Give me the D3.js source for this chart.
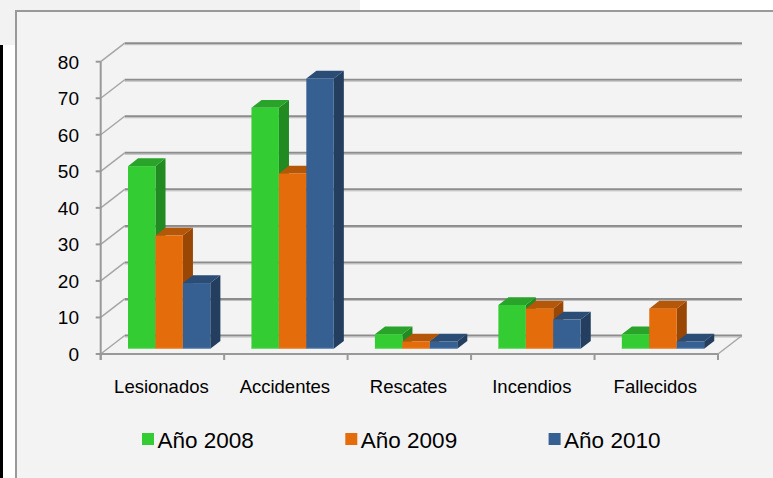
<!DOCTYPE html>
<html>
<head>
<meta charset="utf-8">
<script src="https://cdn.jsdelivr.net/npm/d3@7"></script>
<style>
  html, body { margin: 0; padding: 0; background: #ffffff; }
  svg { display: block; font-family: 'Liberation Sans', Arial, sans-serif; }
</style>
</head>
<body>
<div id="chart"></div>
<script>
// chart data
const categories = ['Lesionados', 'Accidentes', 'Rescates', 'Incendios', 'Fallecidos'];
const seriesNames = ['Año 2008', 'Año 2009', 'Año 2010'];
const values2008 = [50, 66, 4, 12, 4];
const values2009 = [31, 48, 2, 11, 11];
const values2010 = [18, 74, 2, 8, 2];
const yTickValues = [0, 10, 20, 30, 40, 50, 60, 70, 80];

const seriesValues = [values2008, values2009, values2010];
const palette = [
  { front: '#33cc33', top: '#2aa32a', side: '#218a21', edge: '#7fe07f' },
  { front: '#e46c0a', top: '#b45708', side: '#9a4706', edge: '#f0a060' },
  { front: '#376092', top: '#2b4c75', side: '#233e5f', edge: '#8aa4c8' },
];

const W = 773;
const H = 478;
const depth = { dx: 24, dy: -18.5 };
const barDepth = [0.28, 0.7];

const svg = d3.select('#chart').append('svg').attr('width', W).attr('height', H);

// page / frame background
svg.append('rect').attr('width', W).attr('height', H).attr('fill', '#ffffff');
svg.append('rect').attr('x', 0).attr('y', 0).attr('width', 360).attr('height', 11).attr('fill', '#f2f2f2');
svg.append('rect').attr('x', 0).attr('y', 0).attr('width', 16).attr('height', 45).attr('fill', '#f2f2f2');
svg.append('rect').attr('x', 0).attr('y', 45).attr('width', 3).attr('height', H - 45).attr('fill', '#000000');
svg.append('rect').attr('x', 16).attr('y', 11).attr('width', W).attr('height', H).attr('fill', '#f3f3f3')
  .attr('stroke', '#999999').attr('stroke-width', 2);

const x = d3.scaleBand().domain(categories).range([100.7, 718]).padding(0);
const xs = d3.scaleBand().domain(seriesNames).range([0, x.bandwidth()]).paddingInner(0).paddingOuter(0.75);
const y = d3.scaleLinear().domain([0, 80]).range([354, 61.7]);

const off = (z) => [depth.dx * z, depth.dy * z];
const [x0, x1] = x.range();

// back wall gridlines
const grid = svg.append('g');
yTickValues.forEach((v) => {
  const [ox, oy] = off(1);
  const yy = y(v) + oy;
  grid.append('line').attr('x1', x0 + ox).attr('x2', x1 + ox).attr('y1', yy).attr('y2', yy)
    .attr('stroke', '#8c8c8c').attr('stroke-width', 2);
  grid.append('line').attr('x1', x0 + ox).attr('x2', x1 + ox).attr('y1', yy + 1.5).attr('y2', yy + 1.5)
    .attr('stroke', '#bdbdbd').attr('stroke-width', 1);
  // side wall diagonals
  grid.append('line').attr('x1', x0).attr('y1', y(v)).attr('x2', x0 + ox).attr('y2', yy)
    .attr('stroke', '#a6a6a6').attr('stroke-width', 1.5);
});

// floor right edge
svg.append('line').attr('x1', x1).attr('y1', y(0)).attr('x2', x1 + depth.dx).attr('y2', y(0) + depth.dy)
  .attr('stroke', '#a6a6a6').attr('stroke-width', 1.5);

// bars
const bars = svg.append('g');
categories.forEach((cat, ci) => {
  seriesNames.forEach((s, si) => {
    const v = seriesValues[si][ci];
    const c = palette[si];
    const [fx, fy] = off(barDepth[0]);
    const [bx, by] = off(barDepth[1]);
    const left = x(cat) + xs(s) + fx;
    const right = left + xs.bandwidth();
    const bottom = y(0) + fy;
    const top = y(v) + fy;
    const ddx = bx - fx;
    const ddy = by - fy;
    // side face
    bars.append('path')
      .attr('d', `M${right},${bottom}L${right + ddx},${bottom + ddy}L${right + ddx},${top + ddy}L${right},${top}Z`)
      .attr('fill', c.side);
    // top face
    bars.append('path')
      .attr('d', `M${left},${top}L${left + ddx},${top + ddy}L${right + ddx},${top + ddy}L${right},${top}Z`)
      .attr('fill', c.top);
    // front face
    bars.append('rect').attr('x', left).attr('y', top).attr('width', xs.bandwidth()).attr('height', bottom - top)
      .attr('fill', c.front);
    bars.append('line').attr('x1', left).attr('x2', right).attr('y1', bottom - 0.5).attr('y2', bottom - 0.5)
      .attr('stroke', c.edge).attr('stroke-width', 1).attr('opacity', 0.7);
  });
});

// front axes
const axisG = svg.append('g');
axisG.append('line').attr('x1', x0).attr('x2', x1).attr('y1', y(0)).attr('y2', y(0))
  .attr('stroke', '#999999').attr('stroke-width', 2);
axisG.append('line').attr('x1', x0).attr('x2', x0).attr('y1', y(80)).attr('y2', y(0) + 6)
  .attr('stroke', '#999999').attr('stroke-width', 2);
yTickValues.forEach((v) => {
  axisG.append('line').attr('x1', x0 - 5).attr('x2', x0).attr('y1', y(v)).attr('y2', y(v))
    .attr('stroke', '#999999').attr('stroke-width', 2);
});
categories.concat(['__end']).forEach((cat, i) => {
  const xx = i < categories.length ? x(cat) : x1;
  axisG.append('line').attr('x1', xx).attr('x2', xx).attr('y1', y(0)).attr('y2', y(0) + 6)
    .attr('stroke', '#999999').attr('stroke-width', 2);
});

// tick labels
svg.append('g').selectAll('text').data(yTickValues).join('text')
  .attr('x', 79).attr('y', (d) => y(d)).attr('dy', '0.36em').attr('text-anchor', 'end')
  .style('font-size', '19px').attr('fill', '#000').text((d) => d);

svg.append('g').selectAll('text').data(categories).join('text')
  .attr('x', (d) => x(d) + x.bandwidth() / 2 - 1).attr('y', 393).attr('text-anchor', 'middle')
  .style('font-size', '18.5px').attr('fill', '#000').text((d) => d);

// legend
const legend = svg.append('g').selectAll('g').data(seriesNames).join('g')
  .attr('transform', (d, i) => `translate(${142 + i * 203.3},433)`);
legend.append('rect').attr('width', 12).attr('height', 12).attr('fill', (d, i) => palette[i].front);
legend.append('text').attr('x', 15.5).attr('y', 15.3).style('font-size', '22.5px').attr('fill', '#000').text((d) => d);
</script>
</body>
</html>
